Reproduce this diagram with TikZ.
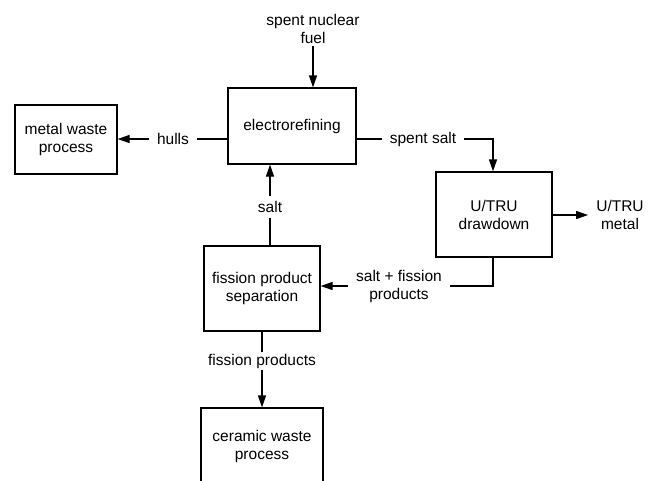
\documentclass[tikz,border=0pt]{standalone}
\usepackage{fontspec}
\setmainfont{Liberation Sans}
\usetikzlibrary{arrows.meta}
\tikzset{
block/.style={
  draw,
  line width=1.2pt,
  rectangle,
  align=center,
  inner sep=0pt
},
lbl/.style={
  align=center,
  inner xsep=7.5pt,
  inner ysep=2pt
},
flow/.style={
  line width=1.2pt,
  -{Triangle[length=12pt,width=8pt]}
},
}
\begin{document}
\begin{tikzpicture}[x=1pt,y=-1pt,font=\fontsize{15.5}{18}\selectfont]
\useasboundingbox[fill=white] (0,0) rectangle (653,480);
% the boxes
\node[block,minimum width=128pt,minimum height=76pt] (refine) at (292,126) {electrorefining};
\node[block,minimum width=102pt,minimum height=69pt] (waste) at (66,139.5) {metal waste\\process};
\node[block,minimum width=116pt,minimum height=85pt] (drawdown) at (494,214.5) {U/TRU\\drawdown};
\node[block,minimum width=116pt,minimum height=85pt] (fission) at (262,288.5) {fission product\\separation};
\node[block,minimum width=122pt,minimum height=77pt] (ceramic) at (262,446.5) {ceramic waste\\process};
% the labels
\node[lbl] (fuel) at (313,29) {spent nuclear\\fuel};
\node[lbl] (hulls) at (173,139) {hulls};
\node[lbl,inner ysep=5pt] (salt) at (270,207) {salt};
\node[lbl] (spent) at (423,139) {spent salt};
\node[lbl,inner xsep=8pt] (metal) at (620,215) {U/TRU\\metal};
\node[lbl] (saltfp) at (399,286) {salt + fission\\products};
\node[lbl] (fprod) at (262,361) {fission products};
% the arrows
\draw[flow] (fuel.south) -- (fuel.south |- refine.north);
\draw[line width=1.2pt] (refine.west |- hulls) -- (hulls.east);
\draw[flow] (hulls.west) -- (waste.east |- hulls);
\draw[line width=1.2pt] (refine.east |- spent) -- (spent.west);
\draw[flow] (spent.east) -| ([xshift=-1pt]drawdown.north);
\draw[flow] (drawdown.east |- metal) -- (metal.west);
\draw[line width=1.2pt] ([xshift=-1pt]drawdown.south) |- (saltfp.east);
\draw[flow] (saltfp.west) -- (fission.east |- saltfp);
\draw[line width=1.2pt] (fission.north -| salt) -- (salt.south);
\draw[flow] (salt.north) -- (salt |- refine.south);
\draw[line width=1.2pt] (fission.south) -- (fprod.north);
\draw[flow] (fprod.south) -- (ceramic.north);
\end{tikzpicture}
\end{document}
